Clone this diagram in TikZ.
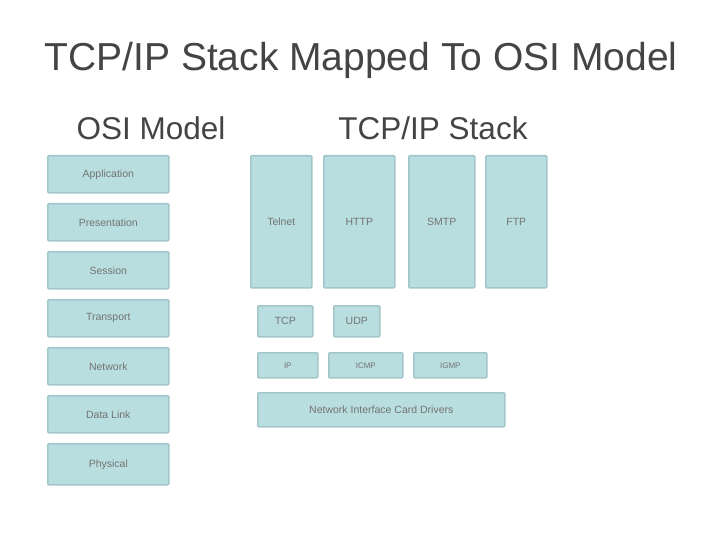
\documentclass[tikz,border=0pt]{standalone}
\usepackage{fontspec}
\setmainfont{Liberation Sans}
\usepackage{tikz}

\definecolor{boxfill}{HTML}{B9DEE0}
\definecolor{boxline}{HTML}{A3C6C9}
\definecolor{headgray}{HTML}{444444}

\tikzset{
  layer/.style={draw=boxline, fill=boxfill, line width=1.6pt, rounded corners=1pt,
    anchor=north west, inner sep=0pt, text=black!55,
    font=\fontsize{10.5}{12}\selectfont},
  heading/.style={text=headgray, font=\fontsize{31.5}{34}\selectfont},
}

\begin{document}
\begin{tikzpicture}[x=1pt,y=-1pt]
\fill[white] (0,0) rectangle (720,540);
\useasboundingbox (0,0) rectangle (720,540);

\node[text=headgray, font=\fontsize{39}{42}\selectfont] (title) at (361,60) {TCP/IP Stack Mapped To OSI Model};
\node[heading] (osihead) at (151,128) {OSI Model};
\node[heading] (tcphead) at (433,128) {TCP/IP Stack};

% OSI layers
\foreach \name/\boxh [count=\i from 0] in {Application/37,Presentation/37,Session/37,Transport/37,Network/37,Data Link/37,Physical/41}{
  \node[layer, minimum width=121pt, minimum height=\boxh pt] (osi\i) at (47,155+48*\i) {\name};
}

% TCP/IP stack
\node[layer, minimum width=61pt, minimum height=132pt] (telnet) at (250,155) {Telnet};
\node[layer, minimum width=71pt, minimum height=132pt] (http) at (323,155) {HTTP};
\node[layer, minimum width=66pt, minimum height=132pt] (smtp) at (408,155) {SMTP};
\node[layer, minimum width=61pt, minimum height=132pt] (ftp) at (485,155) {FTP};

\node[layer, minimum width=55pt, minimum height=31pt] (tcp) at (257,305) {TCP};
\node[layer, minimum width=46pt, minimum height=31pt] (udp) at (333,305) {UDP};

\node[layer, minimum width=60pt, minimum height=25pt, font=\fontsize{8}{9}\selectfont] (ip) at (257,352) {IP};
\node[layer, minimum width=74pt, minimum height=25pt, font=\fontsize{8}{9}\selectfont] (icmp) at (328,352) {ICMP};
\node[layer, minimum width=73pt, minimum height=25pt, font=\fontsize{8}{9}\selectfont] (igmp) at (413,352) {IGMP};

\node[layer, minimum width=247pt, minimum height=34pt] (nic) at (257,392) {Network Interface Card Drivers};
\end{tikzpicture}
\end{document}
